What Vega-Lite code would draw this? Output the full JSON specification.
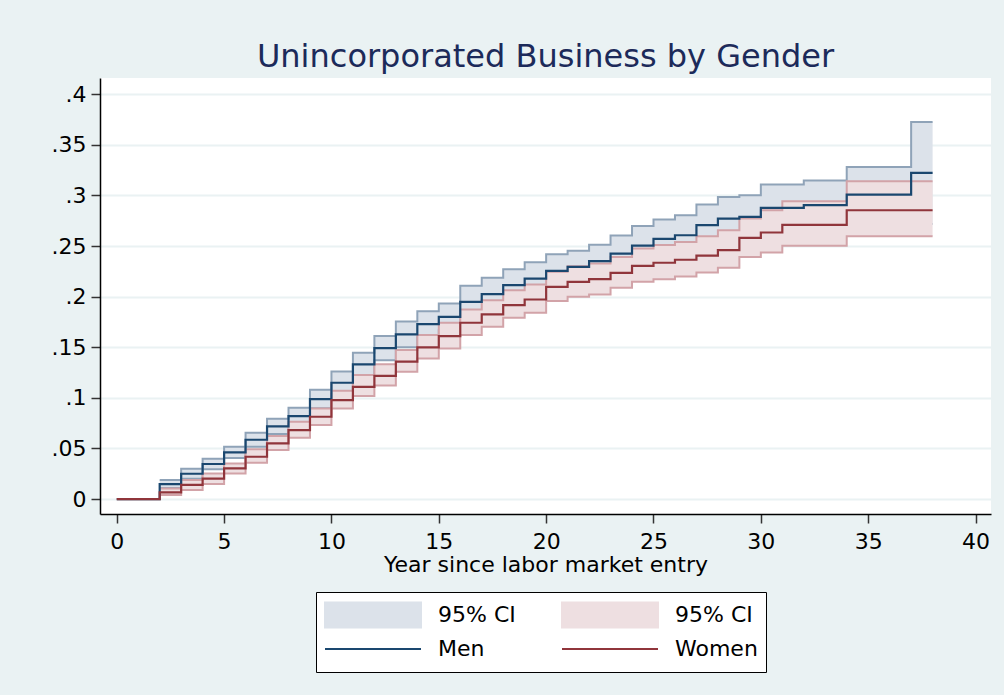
{
  "$schema": "https://vega.github.io/schema/vega-lite/v6.json",
  "width": 891,
  "height": 436,
  "autosize": "none",
  "padding": {"left": 100, "top": 78, "right": 13, "bottom": 181},
  "title": {"text": "Unincorporated Business by Gender", "font": "DejaVu Sans", "fontSize": 32, "fontWeight": "normal", "color": "#1c2a5a", "anchor": "middle", "baseline": "alphabetic", "offset": -21},
  "data": {"values": [
    {"g":"Men","ci":"Men CI","year":0,"est":0,"lo":null,"hi":null},
    {"g":"Men","ci":"Men CI","year":2,"est":0.0148,"lo":0.0108,"hi":0.0188},
    {"g":"Men","ci":"Men CI","year":3,"est":0.0250,"lo":0.0200,"hi":0.0300},
    {"g":"Men","ci":"Men CI","year":4,"est":0.0346,"lo":0.0294,"hi":0.0398},
    {"g":"Men","ci":"Men CI","year":5,"est":0.0461,"lo":0.0405,"hi":0.0517},
    {"g":"Men","ci":"Men CI","year":6,"est":0.0586,"lo":0.0517,"hi":0.0655},
    {"g":"Men","ci":"Men CI","year":7,"est":0.0718,"lo":0.0643,"hi":0.0793},
    {"g":"Men","ci":"Men CI","year":8,"est":0.0820,"lo":0.0738,"hi":0.0902},
    {"g":"Men","ci":"Men CI","year":9,"est":0.0988,"lo":0.0896,"hi":0.1080},
    {"g":"Men","ci":"Men CI","year":10,"est":0.1149,"lo":0.1037,"hi":0.1261},
    {"g":"Men","ci":"Men CI","year":11,"est":0.1330,"lo":0.1215,"hi":0.1445},
    {"g":"Men","ci":"Men CI","year":12,"est":0.1491,"lo":0.1371,"hi":0.1611},
    {"g":"Men","ci":"Men CI","year":13,"est":0.1627,"lo":0.1499,"hi":0.1755},
    {"g":"Men","ci":"Men CI","year":14,"est":0.1728,"lo":0.1599,"hi":0.1857},
    {"g":"Men","ci":"Men CI","year":15,"est":0.1801,"lo":0.1669,"hi":0.1933},
    {"g":"Men","ci":"Men CI","year":16,"est":0.1949,"lo":0.1791,"hi":0.2107},
    {"g":"Men","ci":"Men CI","year":17,"est":0.2025,"lo":0.1864,"hi":0.2186},
    {"g":"Men","ci":"Men CI","year":18,"est":0.2114,"lo":0.1956,"hi":0.2272},
    {"g":"Men","ci":"Men CI","year":19,"est":0.2179,"lo":0.2017,"hi":0.2341},
    {"g":"Men","ci":"Men CI","year":20,"est":0.2255,"lo":0.2090,"hi":0.2420},
    {"g":"Men","ci":"Men CI","year":21,"est":0.2295,"lo":0.2137,"hi":0.2453},
    {"g":"Men","ci":"Men CI","year":22,"est":0.2351,"lo":0.2190,"hi":0.2512},
    {"g":"Men","ci":"Men CI","year":23,"est":0.2426,"lo":0.2248,"hi":0.2604},
    {"g":"Men","ci":"Men CI","year":24,"est":0.2505,"lo":0.2312,"hi":0.2698},
    {"g":"Men","ci":"Men CI","year":25,"est":0.2572,"lo":0.2382,"hi":0.2762},
    {"g":"Men","ci":"Men CI","year":26,"est":0.2607,"lo":0.2410,"hi":0.2804},
    {"g":"Men","ci":"Men CI","year":27,"est":0.2706,"lo":0.2502,"hi":0.2910},
    {"g":"Men","ci":"Men CI","year":28,"est":0.2772,"lo":0.2558,"hi":0.2986},
    {"g":"Men","ci":"Men CI","year":29,"est":0.2789,"lo":0.2576,"hi":0.3002},
    {"g":"Men","ci":"Men CI","year":30,"est":0.2877,"lo":0.2646,"hi":0.3108},
    {"g":"Men","ci":"Men CI","year":32,"est":0.2904,"lo":0.2661,"hi":0.3147},
    {"g":"Men","ci":"Men CI","year":34,"est":0.3009,"lo":0.2736,"hi":0.3282},
    {"g":"Men","ci":"Men CI","year":37,"est":0.3223,"lo":0.2719,"hi":0.3727},
    {"g":"Men","ci":"Men CI","year":38,"est":0.3223,"lo":0.2719,"hi":0.3727},
    {"g":"Women","ci":"Women CI","year":0,"est":0,"lo":null,"hi":null},
    {"g":"Women","ci":"Women CI","year":2,"est":0.0066,"lo":0.0040,"hi":0.0105},
    {"g":"Women","ci":"Women CI","year":3,"est":0.0140,"lo":0.0089,"hi":0.0188},
    {"g":"Women","ci":"Women CI","year":4,"est":0.0201,"lo":0.0148,"hi":0.0253},
    {"g":"Women","ci":"Women CI","year":5,"est":0.0303,"lo":0.0253,"hi":0.0352},
    {"g":"Women","ci":"Women CI","year":6,"est":0.0418,"lo":0.0359,"hi":0.0491},
    {"g":"Women","ci":"Women CI","year":7,"est":0.0550,"lo":0.0484,"hi":0.0622},
    {"g":"Women","ci":"Women CI","year":8,"est":0.0681,"lo":0.0606,"hi":0.0764},
    {"g":"Women","ci":"Women CI","year":9,"est":0.0813,"lo":0.0731,"hi":0.0895},
    {"g":"Women","ci":"Women CI","year":10,"est":0.0978,"lo":0.0895,"hi":0.1070},
    {"g":"Women","ci":"Women CI","year":11,"est":0.1109,"lo":0.1017,"hi":0.1225},
    {"g":"Women","ci":"Women CI","year":12,"est":0.1218,"lo":0.1121,"hi":0.1331},
    {"g":"Women","ci":"Women CI","year":13,"est":0.1358,"lo":0.1258,"hi":0.1472},
    {"g":"Women","ci":"Women CI","year":14,"est":0.1498,"lo":0.1389,"hi":0.1620},
    {"g":"Women","ci":"Women CI","year":15,"est":0.1610,"lo":0.1488,"hi":0.1742},
    {"g":"Women","ci":"Women CI","year":16,"est":0.1742,"lo":0.1620,"hi":0.1873},
    {"g":"Women","ci":"Women CI","year":17,"est":0.1824,"lo":0.1702,"hi":0.1965},
    {"g":"Women","ci":"Women CI","year":18,"est":0.1916,"lo":0.1791,"hi":0.2064},
    {"g":"Women","ci":"Women CI","year":19,"est":0.1972,"lo":0.1840,"hi":0.2120},
    {"g":"Women","ci":"Women CI","year":20,"est":0.2097,"lo":0.1956,"hi":0.2245},
    {"g":"Women","ci":"Women CI","year":21,"est":0.2146,"lo":0.1998,"hi":0.2301},
    {"g":"Women","ci":"Women CI","year":22,"est":0.2173,"lo":0.2022,"hi":0.2328},
    {"g":"Women","ci":"Women CI","year":23,"est":0.2235,"lo":0.2087,"hi":0.2393},
    {"g":"Women","ci":"Women CI","year":24,"est":0.2305,"lo":0.2148,"hi":0.2475},
    {"g":"Women","ci":"Women CI","year":25,"est":0.2335,"lo":0.2172,"hi":0.2510},
    {"g":"Women","ci":"Women CI","year":26,"est":0.2365,"lo":0.2200,"hi":0.2540},
    {"g":"Women","ci":"Women CI","year":27,"est":0.2406,"lo":0.2239,"hi":0.2598},
    {"g":"Women","ci":"Women CI","year":28,"est":0.2459,"lo":0.2285,"hi":0.2657},
    {"g":"Women","ci":"Women CI","year":29,"est":0.2581,"lo":0.2393,"hi":0.2772},
    {"g":"Women","ci":"Women CI","year":30,"est":0.2634,"lo":0.2436,"hi":0.2854},
    {"g":"Women","ci":"Women CI","year":31,"est":0.2710,"lo":0.2502,"hi":0.2943},
    {"g":"Women","ci":"Women CI","year":34,"est":0.2854,"lo":0.2598,"hi":0.3141},
    {"g":"Women","ci":"Women CI","year":38,"est":0.2854,"lo":0.2598,"hi":0.3141}
  ]},
  "encoding": {
    "x": {"field": "year", "type": "quantitative", "scale": {"domain": [-0.78, 40.72], "nice": false, "zero": false}, "axis": {"values": [0,5,10,15,20,25,30,35,40], "title": "Year since labor market entry"}}
  },
  "layer": [
    {
      "transform": [{"filter": "datum.g == 'Men' && datum.lo != null"}],
      "mark": {"type": "area", "interpolate": "step-after"},
      "encoding": {
        "y": {"field": "lo", "type": "quantitative", "scale": {"domain": [-0.0148, 0.4161], "nice": false, "zero": false}, "axis": {"values": [0,0.05,0.1,0.15,0.2,0.25,0.3,0.35,0.4], "labelExpr": "replace(format(datum.value, '.2~f'), '0.', '.')", "title": null}},
        "y2": {"field": "hi"},
        "color": {"field": "ci", "type": "nominal",
          "scale": {"domain": ["Men CI", "Women CI", "Men", "Women"], "range": ["#dce2ea", "#eedfe1", "#1a476f", "#90353b"]},
          "legend": {"title": null, "orient": "none", "legendX": 216, "legendY": 514, "columns": 2, "direction": "horizontal",
            "strokeColor": "black", "fillColor": "white", "padding": 8, "cornerRadius": 0,
            "symbolSize": 9216, "symbolStrokeWidth": 2, "symbolOpacity": 1,
            "labelFont": "DejaVu Sans", "labelFontSize": 22, "labelColor": "black", "labelOffset": 16, "labelLimit": 200,
            "columnPadding": 45, "rowPadding": 4, "clipHeight": 30,
            "labelExpr": "indexof(datum.label, 'CI') >= 0 ? '95% CI' : datum.label",
            "encoding": {"symbols": {
              "shape": {"value": {"expr": "indexof(datum.value, 'CI') >= 0 ? 'M-1,-0.26H1V0.26H-1Z' : 'M-1,0H1'"}},
              "fill": {"value": {"expr": "indexof(datum.value, 'CI') >= 0 ? scale('color', datum.value) : 'transparent'"}},
              "stroke": {"value": {"expr": "indexof(datum.value, 'CI') >= 0 ? 'transparent' : scale('color', datum.value)"}},
              "strokeWidth": {"value": 2},
              "opacity": {"value": 1}
            }}
          }
        }
      }
    },
    {
      "transform": [{"filter": "datum.g == 'Men' && datum.lo != null"}, {"fold": ["lo", "hi"], "as": ["bound", "bv"]}],
      "mark": {"type": "line", "interpolate": "step-after", "stroke": "#8fa3b8", "strokeWidth": 2},
      "encoding": {
        "y": {"field": "bv", "type": "quantitative", "axis": {"values": [0,0.05,0.1,0.15,0.2,0.25,0.3,0.35,0.4], "labelExpr": "replace(format(datum.value, '.2~f'), '0.', '.')", "title": null}},
        "detail": {"field": "bound"}
      }
    },
    {
      "transform": [{"filter": "datum.g == 'Women' && datum.lo != null"}],
      "mark": {"type": "area", "interpolate": "step-after"},
      "encoding": {
        "y": {"field": "lo", "type": "quantitative", "axis": {"values": [0,0.05,0.1,0.15,0.2,0.25,0.3,0.35,0.4], "labelExpr": "replace(format(datum.value, '.2~f'), '0.', '.')", "title": null}},
        "y2": {"field": "hi"},
        "color": {"field": "ci", "type": "nominal"}
      }
    },
    {
      "transform": [{"filter": "datum.g == 'Women' && datum.lo != null"}, {"fold": ["lo", "hi"], "as": ["bound", "bv"]}],
      "mark": {"type": "line", "interpolate": "step-after", "stroke": "#d2a3a8", "strokeWidth": 2},
      "encoding": {
        "y": {"field": "bv", "type": "quantitative", "axis": {"values": [0,0.05,0.1,0.15,0.2,0.25,0.3,0.35,0.4], "labelExpr": "replace(format(datum.value, '.2~f'), '0.', '.')", "title": null}},
        "detail": {"field": "bound"}
      }
    },
    {
      "mark": {"type": "line", "interpolate": "step-after", "strokeWidth": 2.2},
      "encoding": {
        "y": {"field": "est", "type": "quantitative", "axis": {"values": [0,0.05,0.1,0.15,0.2,0.25,0.3,0.35,0.4], "labelExpr": "replace(format(datum.value, '.2~f'), '0.', '.')", "title": null}},
        "color": {"field": "g", "type": "nominal"}
      }
    }
  ],
  "config": {
    "background": "#eaf2f3",
    "view": {"fill": "white", "stroke": null},
    "font": "DejaVu Sans",
    "axis": {"domainColor": "black", "domainWidth": 1.5, "tickColor": "#333333", "tickWidth": 1.5, "tickSize": 9,
      "labelFont": "DejaVu Sans", "labelFontSize": 22, "labelColor": "black", "labelPadding": 5,
      "titleFont": "DejaVu Sans", "titleFontSize": 22, "titleColor": "black", "titleFontWeight": "normal"},
    "axisX": {"grid": false, "labelPadding": 8, "titlePadding": 2},
    "axisY": {"grid": true, "gridColor": "#eaf2f3", "gridWidth": 2}
  }
}
